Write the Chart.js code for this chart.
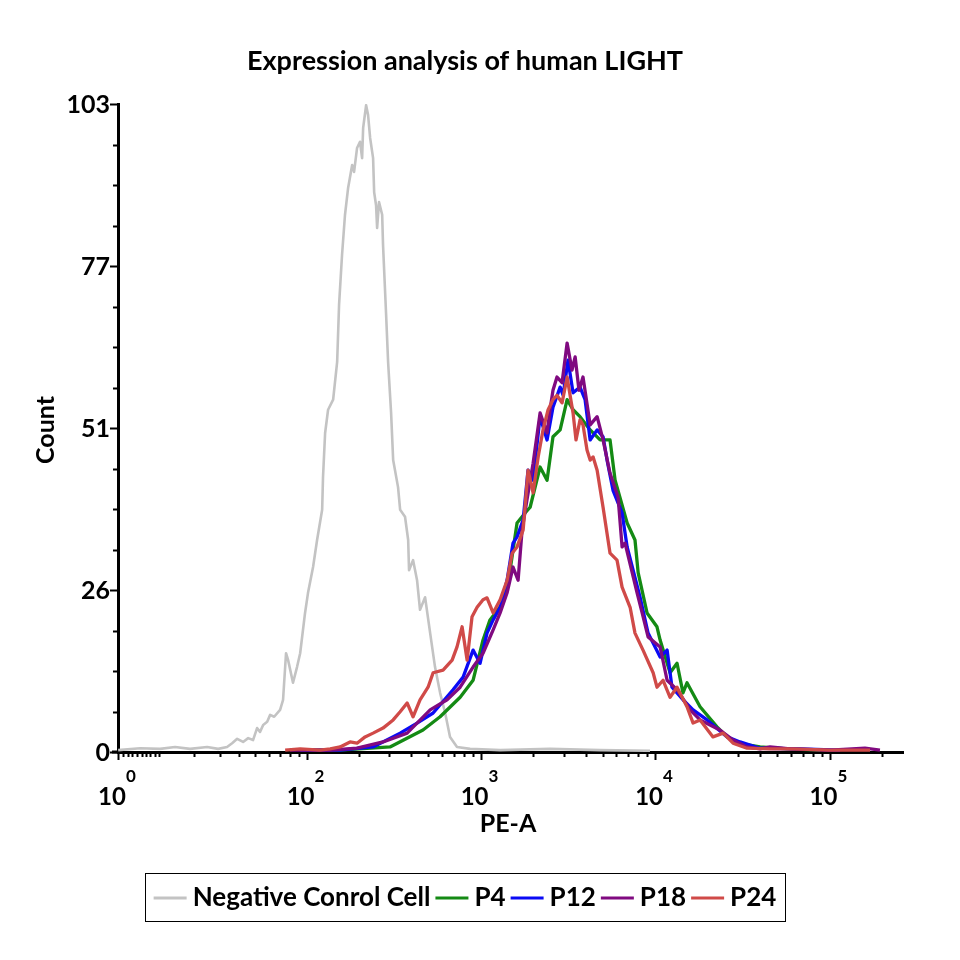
<!DOCTYPE html>
<html>
<head>
<meta charset="utf-8">
<script src="https://cdn.jsdelivr.net/npm/chart.js@4/dist/chart.umd.min.js"></script>
<style>
html,body{margin:0;padding:0;background:#fff;}
#wrap{width:960px;height:960px;position:relative;}
</style>
</head>
<body>
<div id="wrap"><canvas id="c" width="960" height="960"></canvas></div>
<script>
// ---------- texts ----------
const chartTitle = 'Expression analysis of human LIGHT';
const xAxisTitle = 'PE-A';
const yAxisTitle = 'Count';
const seriesNames = ['Negative Conrol Cell', 'P4', 'P12', 'P18', 'P24'];
const seriesColors = ['#c3c3c3', '#148a14', '#0a0af5', '#800a80', '#d04a48'];

// ---------- axes ----------
const yMax = 103;
const yTickValues = [0, 25.75, 51.5, 77.25, 103];
const yTickLabels = ['0', '26', '51', '77', '103'];
const yMinorPerMajor = 4;
const xTickExponents = [0, 2, 3, 4, 5];
const xMinorMultipliers = [2, 3, 4, 5, 6, 7, 8, 9];
const xMinorDecades = [0, 1, 2, 3, 4, 5];
const logicleWidth = 7.84;   // linear half-width of the biexponential display
const xMaxDisplay = 5.421;   // right end of the PE-A display (decade units)

// ---------- data: [display position in decades of PE-A, count] ----------
const negativeControl = [
  [0.923,0.3],[1.049,0.6],[1.163,0.5],[1.249,0.8],[1.335,0.5],[1.433,0.8],[1.496,0.5],[1.547,0.8],
  [1.576,1.4],[1.605,2.1],[1.639,1.6],[1.668,2.2],[1.696,1.9],[1.719,3.8],[1.736,3.2],[1.754,4.3],
  [1.777,4.8],[1.794,5.9],[1.817,5.6],[1.851,6.7],[1.868,8.3],[1.885,15.7],[1.897,14.6],[1.925,11.0],
  [1.948,13.5],[1.966,15.7],[1.994,22.1],[2.011,25.3],[2.040,29.4],[2.063,33.7],[2.092,38.5],[2.097,43.7],
  [2.109,50.7],[2.126,54.4],[2.155,56.0],[2.178,62.0],[2.189,71.1],[2.206,79.0],[2.223,85.4],[2.241,89.7],
  [2.264,93.3],[2.275,92.2],[2.292,96.0],[2.309,97.0],[2.321,94.4],[2.327,99.2],[2.344,102.8],[2.355,101.3],
  [2.367,97.6],[2.384,94.4],[2.390,89.0],[2.401,86.9],[2.407,83.3],[2.418,87.4],[2.436,85.4],[2.441,80.6],
  [2.458,69.9],[2.470,62.0],[2.487,54.0],[2.499,46.4],[2.527,42.1],[2.539,38.5],[2.567,37.4],[2.585,33.7],
  [2.590,28.9],[2.613,30.5],[2.636,27.3],[2.653,22.6],[2.682,24.6],[2.711,18.9],[2.739,13.5],[2.768,9.4],
  [2.797,6.2],[2.825,2.4],[2.865,0.8],[2.940,0.5],[3.112,0.3],[3.398,0.5],[3.685,0.3],[3.971,0.2]
];
const p4 = [
  [1.966,0.3],[2.195,0.3],[2.481,0.8],[2.670,3.5],[2.768,5.6],[2.883,8.7],[2.957,11.4],[3.014,17.8],
  [3.054,21.0],[3.129,23.7],[3.169,28.9],[3.209,36.4],[3.255,38.0],[3.284,38.9],[3.341,45.3],[3.381,43.2],
  [3.415,50.1],[3.456,51.2],[3.496,56.0],[3.530,54.4],[3.570,53.3],[3.628,51.2],[3.685,49.6],[3.742,49.6],
  [3.771,43.2],[3.840,36.4],[3.885,33.7],[3.903,28.5],[3.954,22.1],[4.011,19.9],[4.029,17.8],[4.086,12.6],
  [4.126,14.1],[4.160,9.4],[4.183,11.0],[4.258,7.2],[4.355,4.0],[4.413,2.4],[4.470,1.4],[4.602,0.8],
  [4.756,0.5],[4.946,0.3]
];
const p12 = [
  [1.966,0.3],[2.195,0.3],[2.384,0.8],[2.539,3.0],[2.636,4.6],[2.728,6.2],[2.842,9.9],[2.900,11.9],
  [2.957,16.2],[2.997,14.1],[3.037,18.9],[3.072,21.0],[3.112,23.0],[3.152,27.3],[3.186,33.2],[3.209,34.2],
  [3.244,36.9],[3.272,44.8],[3.301,43.2],[3.341,53.3],[3.381,49.6],[3.415,54.8],[3.456,58.0],[3.473,56.7],
  [3.501,62.3],[3.530,57.1],[3.570,58.0],[3.599,56.0],[3.628,49.6],[3.668,51.2],[3.702,50.1],[3.725,46.4],
  [3.759,41.6],[3.811,38.0],[3.840,32.6],[3.914,24.6],[3.960,18.9],[4.029,15.1],[4.069,16.2],[4.097,10.3],
  [4.160,8.3],[4.218,6.7],[4.298,5.1],[4.413,2.4],[4.487,1.6],[4.602,0.6],[4.831,0.5],[5.060,0.3]
];
const p18 = [
  [1.908,0.3],[2.138,0.3],[2.292,0.6],[2.441,1.6],[2.579,3.0],[2.711,6.7],[2.808,8.3],[2.883,10.3],
  [2.957,13.5],[3.014,15.7],[3.072,19.4],[3.112,22.1],[3.152,25.3],[3.186,29.4],[3.215,27.3],[3.238,35.3],
  [3.266,40.1],[3.301,45.9],[3.341,53.9],[3.381,50.7],[3.398,54.4],[3.415,57.5],[3.438,59.6],[3.467,58.7],
  [3.496,65.0],[3.524,60.7],[3.542,62.8],[3.564,57.5],[3.587,59.6],[3.628,52.0],[3.668,53.3],[3.702,49.6],
  [3.742,44.3],[3.788,40.5],[3.811,32.6],[3.828,33.2],[3.897,25.3],[3.926,22.1],[3.960,18.3],[4.029,16.7],
  [4.069,11.4],[4.126,9.9],[4.201,6.7],[4.258,5.1],[4.372,3.5],[4.447,1.9],[4.527,0.8],[4.602,0.5],
  [4.659,0.8],[4.774,0.5],[5.003,0.3],[5.203,0.6],[5.289,0.3]
];
const p24 = [
  [1.880,0.3],[1.966,0.5],[2.080,0.3],[2.138,0.5],[2.195,0.8],[2.252,1.6],[2.292,1.4],[2.338,2.4],
  [2.384,3.0],[2.441,3.8],[2.499,5.1],[2.539,6.4],[2.579,7.8],[2.613,5.6],[2.653,8.3],[2.699,10.3],
  [2.728,12.6],[2.785,13.0],[2.837,14.6],[2.865,16.7],[2.894,19.9],[2.923,14.6],[2.951,21.5],[2.980,23.0],
  [3.014,24.2],[3.037,24.5],[3.072,22.1],[3.112,24.2],[3.152,27.3],[3.181,31.6],[3.209,32.6],[3.244,35.3],
  [3.272,44.8],[3.301,41.2],[3.330,46.9],[3.358,51.2],[3.387,54.4],[3.415,56.0],[3.438,56.7],[3.467,55.5],
  [3.496,59.6],[3.513,56.7],[3.530,53.9],[3.547,49.6],[3.570,52.8],[3.587,52.0],[3.610,48.0],[3.628,46.4],
  [3.645,46.9],[3.668,44.8],[3.702,38.9],[3.742,31.6],[3.782,30.5],[3.811,26.2],[3.857,23.0],[3.885,18.9],
  [3.931,16.2],[3.989,12.6],[4.011,10.3],[4.046,11.4],[4.086,8.7],[4.126,10.3],[4.183,7.2],[4.218,4.6],
  [4.258,5.1],[4.332,2.4],[4.390,3.0],[4.447,1.4],[4.527,0.6],[4.659,0.5],[4.791,0.5],[5.003,0.3],[5.232,0.3]
];

// ---------- helpers ----------
// biexponential (logicle-like) display transform of a PE-A value
function toDisplay(v) {
  return Math.log10((v + Math.sqrt(v * v + 4 * logicleWidth * logicleWidth)) / 2);
}
const xMinDisplay = toDisplay(1);
const FONT = 'Lato, "Open Sans", "DejaVu Sans", sans-serif';
const toXY = arr => arr.map(p => ({x: p[0], y: p[1]}));

const allSeries = [negativeControl, p4, p12, p18, p24];
const datasets = allSeries.map((s, i) => ({
  label: seriesNames[i],
  data: toXY(s),
  borderColor: seriesColors[i],
  backgroundColor: seriesColors[i],
  borderWidth: i === 0 ? 2.6 : 3.3,
  pointRadius: 0,
  tension: 0,
  fill: false,
  order: allSeries.length - i
}));

const decorPlugin = {
  id: 'decor',
  afterDraw(chart) {
    const {ctx, chartArea: ca, scales: {x, y}} = chart;
    ctx.save();
    ctx.strokeStyle = '#000';
    ctx.fillStyle = '#000';
    ctx.lineCap = 'butt';

    // small extension of the x axis to the left of the y axis
    ctx.lineWidth = 3;
    ctx.beginPath();
    ctx.moveTo(ca.left - 6, ca.bottom);
    ctx.lineTo(ca.left, ca.bottom);
    ctx.stroke();

    // y ticks (major + minor)
    ctx.lineWidth = 2;
    const nMinor = (yTickValues.length - 1) * yMinorPerMajor;
    for (let i = 0; i <= nMinor; i++) {
      const v = yMax * i / nMinor;
      const py = Math.round(y.getPixelForValue(v)) + 0.5;
      const len = (i % yMinorPerMajor === 0) ? 7 : 4;
      ctx.beginPath();
      ctx.moveTo(ca.left - 1, py);
      ctx.lineTo(ca.left - 1 - len, py);
      ctx.stroke();
    }
    // y tick labels
    ctx.font = 'bold 25px ' + FONT;
    ctx.textAlign = 'right';
    ctx.textBaseline = 'middle';
    yTickValues.forEach((v, i) => {
      ctx.fillText(yTickLabels[i], ca.left - 8, y.getPixelForValue(v) + 1);
    });

    // x minor ticks
    ctx.lineWidth = 2;
    xMinorDecades.forEach(k => {
      [1].concat(xMinorMultipliers).forEach(m => {
        const d = toDisplay(m * Math.pow(10, k));
        if (d < x.min || d > x.max) return;
        const major = (m === 1 && xTickExponents.includes(k));
        const px = Math.round(x.getPixelForValue(d)) + 0.5;
        ctx.beginPath();
        ctx.moveTo(px, ca.bottom + 1);
        ctx.lineTo(px, ca.bottom + 1 + (major ? 7 : 4));
        ctx.stroke();
      });
    });
    // x tick labels: 10 with exponent
    xTickExponents.forEach(k => {
      const px = x.getPixelForValue(toDisplay(Math.pow(10, k)));
      ctx.font = 'bold 24px ' + FONT;
      ctx.textAlign = 'center';
      ctx.textBaseline = 'alphabetic';
      ctx.fillText('10', px - 6, 805);
      ctx.font = 'bold 17px ' + FONT;
      ctx.textAlign = 'left';
      ctx.fillText(String(k), px + 8, 782);
    });

    // axis titles
    ctx.font = 'bold 25px ' + FONT;
    ctx.textAlign = 'center';
    ctx.textBaseline = 'middle';
    ctx.fillText(xAxisTitle, 508, 824);
    ctx.save();
    ctx.translate(46, 430);
    ctx.rotate(-Math.PI / 2);
    ctx.fillText(yAxisTitle, 0, 0);
    ctx.restore();

    // chart title
    ctx.font = 'bold 27px ' + FONT;
    ctx.textAlign = 'center';
    ctx.textBaseline = 'alphabetic';
    ctx.fillText(chartTitle, 465, 70);

    // legend
    const box = {l: 145, t: 873, r: 785, b: 921};
    ctx.lineWidth = 1;
    ctx.strokeRect(box.l + 0.5, box.t + 0.5, box.r - box.l, box.b - box.t);
    ctx.font = 'bold 26px ' + FONT;
    const lineLen = 33, gapText = 6, gapItem = 5;
    const widths = chart.data.datasets.map(ds => ctx.measureText(ds.label).width);
    let total = 0;
    widths.forEach((w, i) => { total += lineLen + gapText + w + (i ? gapItem : 0); });
    let cx = (box.l + box.r) / 2 - total / 2;
    const cy = (box.t + box.b) / 2 + 1;
    ctx.textAlign = 'left';
    ctx.textBaseline = 'middle';
    chart.data.datasets.forEach((ds, i) => {
      if (i) cx += gapItem;
      ctx.strokeStyle = ds.borderColor;
      ctx.lineWidth = 3;
      ctx.beginPath();
      ctx.moveTo(cx, cy);
      ctx.lineTo(cx + lineLen, cy);
      ctx.stroke();
      cx += lineLen + gapText;
      ctx.fillStyle = '#000';
      ctx.fillText(ds.label, cx, cy);
      cx += widths[i];
    });
    ctx.restore();
  }
};

new Chart(document.getElementById('c'), {
  type: 'line',
  data: {datasets},
  options: {
    responsive: false,
    animation: false,
    devicePixelRatio: 1,
    layout: {padding: {left: 118, right: 57, top: 104, bottom: 208}},
    plugins: {legend: {display: false}, title: {display: false}, tooltip: {enabled: false}},
    elements: {line: {borderJoinStyle: 'round'}},
    scales: {
      x: {
        type: 'linear', min: xMinDisplay, max: xMaxDisplay,
        ticks: {display: false},
        grid: {display: false, drawTicks: false},
        border: {display: true, color: '#000', width: 3}
      },
      y: {
        type: 'linear', min: 0, max: yMax,
        ticks: {display: false},
        grid: {display: false, drawTicks: false},
        border: {display: true, color: '#000', width: 3}
      }
    }
  },
  plugins: [decorPlugin]
});
</script>
</body>
</html>
